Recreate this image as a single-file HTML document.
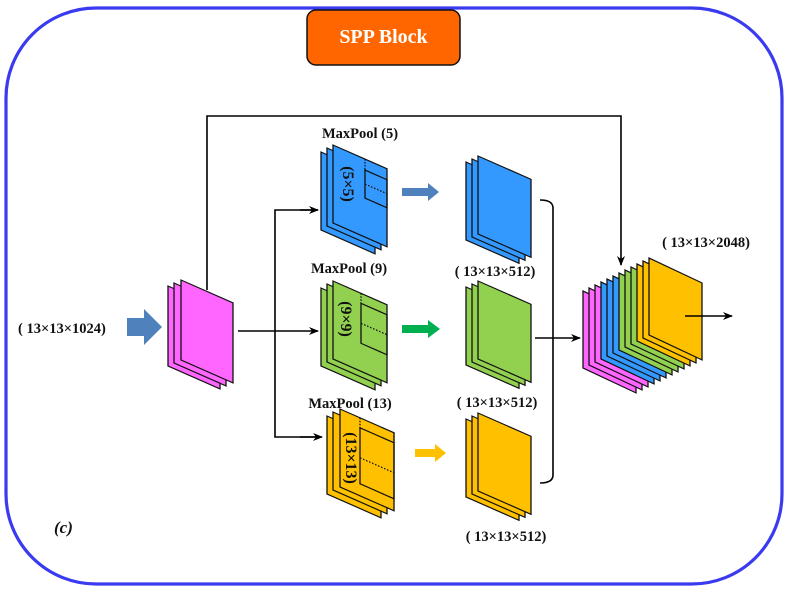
<!DOCTYPE html>
<html><head><meta charset="utf-8"><style>
html,body{margin:0;padding:0;background:#fff}
svg{display:block}
text{font-family:"Liberation Serif",serif;font-weight:bold;fill:#111}
</style></head><body>
<svg width="788" height="591" viewBox="0 0 788 591" xmlns="http://www.w3.org/2000/svg">
<defs>
<marker id="ah" markerWidth="10" markerHeight="8" refX="9" refY="4" orient="auto" markerUnits="userSpaceOnUse">
<path d="M0,0 L10,4 L0,8 L3,4 Z" fill="#000"/>
</marker>
</defs>
<rect x="6" y="8" width="776" height="576" rx="90" ry="90" fill="#fff" stroke="#3a3af0" stroke-width="3.2"/>
<rect x="307" y="10" width="153" height="55" rx="9" fill="#ff6600" stroke="#111" stroke-width="1.5"/>
<text x="383.5" y="43" text-anchor="middle" font-size="20" style="fill:#fff">SPP Block</text>

<g stroke="#000" stroke-width="1.6" fill="none">
<polyline points="207,290 207,116 621,116 621,265" marker-end="url(#ah)"/>
<line x1="238" y1="331" x2="318" y2="331" marker-end="url(#ah)"/>
<polyline points="318,210 275,210 275,437 318,437" />
<line x1="300" y1="210" x2="318" y2="210" marker-end="url(#ah)"/>
<line x1="300" y1="437" x2="322" y2="437" marker-end="url(#ah)"/>
<path d="M540,200 Q553,200 553,208 L553,475 Q553,483 540,483"/>
<line x1="535" y1="338" x2="580" y2="338" marker-end="url(#ah)"/>
</g>

<path d="M127,318 L144,318 L144,309 L162,327 L144,345 L144,336 L127,336 Z" fill="#4f81bd"/>
<text x="18" y="333" font-size="14.5">( 13×13×1024)</text>
<text x="54" y="533" font-size="17" font-style="italic">(c)</text>

<g stroke="#111" stroke-width="1.3">
<g fill="#ff66ff">
<polygon transform="matrix(1,0.44,0,1,168,286)" points="0,0 52,0 52,80 0,80"/>
<polygon transform="matrix(1,0.44,0,1,174,283)" points="0,0 52,0 52,80 0,80"/>
<polygon transform="matrix(1,0.44,0,1,181,280)" points="0,0 52,0 52,80 0,80"/>
</g>
<g fill="#3399ff">
<polygon transform="matrix(1,0.44,0,1,321,152)" points="0,0 54,0 54,78 0,78"/>
<polygon transform="matrix(1,0.44,0,1,327,148)" points="0,0 54,0 54,78 0,78"/>
<polygon transform="matrix(1,0.44,0,1,333,145)" points="0,0 54,0 54,78 0,78"/>
</g>
<g transform="matrix(1,0.44,0,1,333,145)" fill="none">
<rect x="32" y="11" width="22" height="28"/>
<line x1="32" y1="0" x2="32" y2="11" stroke-dasharray="1.5,1.5"/>
<line x1="32" y1="25" x2="54" y2="25" stroke-dasharray="1.5,1.5"/>
</g>
<g fill="#92d050">
<polygon transform="matrix(1,0.44,0,1,321,288)" points="0,0 54,0 54,78 0,78"/>
<polygon transform="matrix(1,0.44,0,1,327,284)" points="0,0 54,0 54,78 0,78"/>
<polygon transform="matrix(1,0.44,0,1,333,281)" points="0,0 54,0 54,78 0,78"/>
</g>
<g transform="matrix(1,0.44,0,1,333,281)" fill="none">
<rect x="28" y="10" width="26" height="40"/>
<line x1="28" y1="0" x2="28" y2="10" stroke-dasharray="1.5,1.5"/>
<line x1="28" y1="30" x2="54" y2="30" stroke-dasharray="1.5,1.5"/>
</g>
<g fill="#ffc000">
<polygon transform="matrix(1,0.44,0,1,327,416)" points="0,0 54,0 54,78 0,78"/>
<polygon transform="matrix(1,0.44,0,1,333,412)" points="0,0 54,0 54,78 0,78"/>
<polygon transform="matrix(1,0.44,0,1,340,409)" points="0,0 54,0 54,78 0,78"/>
</g>
<g transform="matrix(1,0.44,0,1,340,409)" fill="none">
<rect x="20" y="10" width="34" height="56"/>
<line x1="20" y1="0" x2="20" y2="10" stroke-dasharray="1.5,1.5"/>
<line x1="54" y1="0" x2="54" y2="10" stroke-dasharray="1.5,1.5"/>
<line x1="20" y1="40" x2="54" y2="40" stroke-dasharray="1.5,1.5"/>
</g>
<g fill="#3399ff">
<polygon transform="matrix(1,0.44,0,1,466,162)" points="0,0 53,0 53,78 0,78"/>
<polygon transform="matrix(1,0.44,0,1,472,159)" points="0,0 53,0 53,78 0,78"/>
<polygon transform="matrix(1,0.44,0,1,478,156)" points="0,0 53,0 53,78 0,78"/>
</g>
<g fill="#92d050">
<polygon transform="matrix(1,0.44,0,1,466,287)" points="0,0 53,0 53,78 0,78"/>
<polygon transform="matrix(1,0.44,0,1,472,284)" points="0,0 53,0 53,78 0,78"/>
<polygon transform="matrix(1,0.44,0,1,478,281)" points="0,0 53,0 53,78 0,78"/>
</g>
<g fill="#ffc000">
<polygon transform="matrix(1,0.44,0,1,466,419)" points="0,0 53,0 53,78 0,78"/>
<polygon transform="matrix(1,0.44,0,1,472,416)" points="0,0 53,0 53,78 0,78"/>
<polygon transform="matrix(1,0.44,0,1,478,413)" points="0,0 53,0 53,78 0,78"/>
</g>
<polygon fill="#ff66ff" transform="matrix(1,0.47,0,1,583,291)" points="0,0 53,0 53,77 0,77"/>
<polygon fill="#ff66ff" transform="matrix(1,0.47,0,1,589,288)" points="0,0 53,0 53,77 0,77"/>
<polygon fill="#ff66ff" transform="matrix(1,0.47,0,1,595,285)" points="0,0 53,0 53,77 0,77"/>
<polygon fill="#3399ff" transform="matrix(1,0.47,0,1,601,282)" points="0,0 53,0 53,77 0,77"/>
<polygon fill="#3399ff" transform="matrix(1,0.47,0,1,607,279)" points="0,0 53,0 53,77 0,77"/>
<polygon fill="#3399ff" transform="matrix(1,0.47,0,1,613,276)" points="0,0 53,0 53,77 0,77"/>
<polygon fill="#92d050" transform="matrix(1,0.47,0,1,619,273)" points="0,0 53,0 53,77 0,77"/>
<polygon fill="#92d050" transform="matrix(1,0.47,0,1,625,270)" points="0,0 53,0 53,77 0,77"/>
<polygon fill="#92d050" transform="matrix(1,0.47,0,1,631,267)" points="0,0 53,0 53,77 0,77"/>
<polygon fill="#ffc000" transform="matrix(1,0.47,0,1,637,264)" points="0,0 53,0 53,77 0,77"/>
<polygon fill="#ffc000" transform="matrix(1,0.47,0,1,643,261)" points="0,0 53,0 53,77 0,77"/>
<polygon fill="#ffc000" transform="matrix(1,0.47,0,1,649,258)" points="0,0 53,0 53,77 0,77"/>
</g>
<line x1="685" y1="316" x2="732" y2="316" stroke="#000" stroke-width="1.6" marker-end="url(#ah)"/>

<text transform="translate(343,184) rotate(90)" text-anchor="middle" font-size="16">(5×5)</text>
<text transform="translate(341,319) rotate(90)" text-anchor="middle" font-size="16">(9×9)</text>
<text transform="translate(346,458) rotate(90)" text-anchor="middle" font-size="16">(13×13)</text>

<path d="M402,188 L428,188 L428,183 L439,192 L428,201 L428,196 L402,196 Z" fill="#4f81bd"/>
<path d="M402,325 L428,325 L428,320 L440,329 L428,338 L428,333 L402,333 Z" fill="#00b050"/>
<path d="M415,449 L435,449 L435,444 L446,453 L435,462 L435,457 L415,457 Z" fill="#ffc000"/>

<text x="360" y="138" text-anchor="middle" font-size="14.5">MaxPool (5)</text>
<text x="349" y="273" text-anchor="middle" font-size="14.5">MaxPool (9)</text>
<text x="350" y="408" text-anchor="middle" font-size="14.5">MaxPool (13)</text>
<text x="495" y="276" text-anchor="middle" font-size="14.5">( 13×13×512)</text>
<text x="497" y="407" text-anchor="middle" font-size="14.5">( 13×13×512)</text>
<text x="506" y="541" text-anchor="middle" font-size="14.5">( 13×13×512)</text>
<text x="706" y="247" text-anchor="middle" font-size="14.5">( 13×13×2048)</text>
</svg>
</body></html>
